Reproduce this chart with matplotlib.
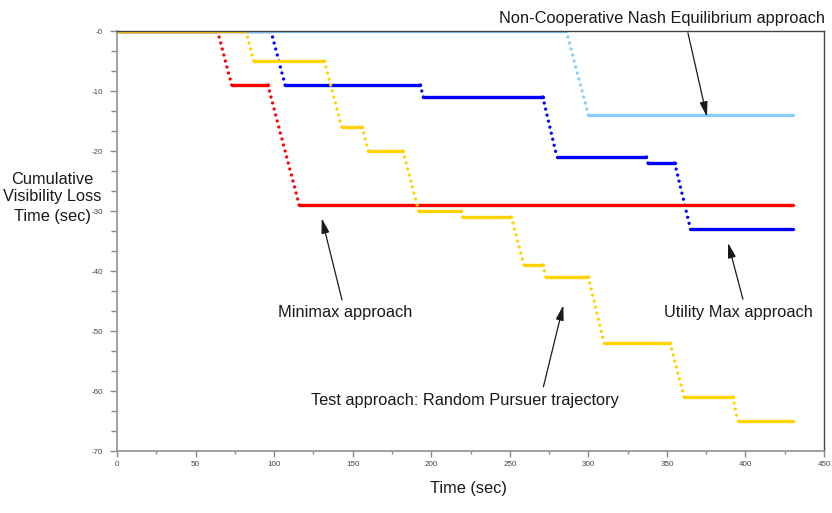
import matplotlib
matplotlib.use("Agg")
import matplotlib.pyplot as plt
from matplotlib.ticker import MultipleLocator, FuncFormatter

plt.rcParams["font.family"] = ["Liberation Sans", "DejaVu Sans"]

# cumulative visibility loss (sec) at the corners of each step curve
minimax_t = [0, 64, 73, 96, 116, 430]
minimax_v = [0, 0, -9, -9, -29, -29]

utility_t = [0, 98, 107, 193, 195, 271, 280, 337, 338, 355, 365, 430]
utility_v = [0, 0, -9, -9, -11, -11, -21, -21, -22, -22, -33, -33]

nash_t = [0, 286, 300, 430]
nash_v = [0, 0, -14, -14]

random_t = [0, 82, 87, 132, 143, 156, 160, 182, 192, 219, 220, 251, 259,
            271, 273, 300, 310, 352, 361, 392, 395, 430]
random_v = [0, 0, -5, -5, -16, -16, -20, -20, -30, -30, -31, -31, -39,
            -39, -41, -41, -52, -52, -61, -61, -65, -65]

ylabel_lines = ["Cumulative", "Visibility Loss", "Time (sec)"]

LW = 2.4


def draw_steps(ax, t, v, color, z):
    # flat parts solid, falling parts as a row of dots
    for t0, t1, v0, v1 in zip(t[:-1], t[1:], v[:-1], v[1:]):
        if v0 == v1:
            ax.plot([t0, t1], [v0, v1], color=color, lw=LW,
                    solid_capstyle="round", zorder=z)
        else:
            ax.plot([t0, t1], [v0, v1], color=color, lw=LW,
                    linestyle=(0, (0.01, 1.85)), dash_capstyle="round",
                    zorder=z)


fig = plt.figure(figsize=(8.32, 5.13), dpi=100)
ax = fig.add_axes([117 / 832, 62 / 513, 707 / 832, 420 / 513])

draw_steps(ax, utility_t, utility_v, "#0000ff", 2)
draw_steps(ax, nash_t, nash_v, "#87cefa", 3)
draw_steps(ax, minimax_t, minimax_v, "#ff0000", 4)
draw_steps(ax, random_t, random_v, "#ffd200", 5)

ax.set_xlim(0, 450)
ax.set_ylim(-70, 0)
ax.xaxis.set_major_locator(MultipleLocator(50))
ax.xaxis.set_minor_locator(MultipleLocator(25))
ax.yaxis.set_major_locator(MultipleLocator(10))
ax.yaxis.set_minor_locator(MultipleLocator(10 / 3))
ax.yaxis.set_major_formatter(FuncFormatter(lambda y, pos: "-%d" % round(abs(y))))
ax.xaxis.set_major_formatter(FuncFormatter(lambda x, pos: "%d" % round(x)))

ax.tick_params(axis="both", which="both", direction="out", colors="#8a8a8a",
               labelcolor="#444444", labelsize=5.8)
ax.tick_params(axis="y", which="major", length=5, width=1, pad=5)
ax.tick_params(axis="y", which="minor", length=4, width=1)
ax.tick_params(axis="x", which="major", length=4.5, width=1, pad=2.5)
ax.tick_params(axis="x", which="minor", length=2.5, width=1)

for side in ("left", "bottom"):
    ax.spines[side].set_color("#999999")
    ax.spines[side].set_linewidth(1.3)
for side in ("top", "right"):
    ax.spines[side].set_color("#444444")
    ax.spines[side].set_linewidth(1.0)
for sp in ax.spines.values():
    sp.set_zorder(10)

fs = 11.8
arrow = dict(arrowstyle="-|>,head_length=0.9,head_width=0.24", color="#1a1a1a",
             lw=0.9, shrinkA=0, shrinkB=0)

ax.text(347.2, 2.0, "Non-Cooperative Nash Equilibrium approach", fontsize=fs,
        ha="center", va="center", color="#1a1a1a", clip_on=False)
ax.annotate("", xy=(375.5, -14.3), xytext=(363.4, -0.3), arrowprops=arrow)

ax.text(145.4, -47.0, "Minimax approach", fontsize=fs, ha="center",
        va="center", color="#1a1a1a")
ax.annotate("", xy=(130.3, -31.2), xytext=(143.2, -44.8), arrowprops=arrow)

ax.text(395.6, -47.0, "Utility Max approach", fontsize=fs, ha="center",
        va="center", color="#1a1a1a")
ax.annotate("", xy=(388.9, -35.3), xytext=(398.4, -44.7), arrowprops=arrow)

ax.text(221.2, -61.5, "Test approach: Random Pursuer trajectory", fontsize=fs,
        ha="center", va="center", color="#1a1a1a")
ax.annotate("", xy=(284.1, -45.7), xytext=(271.4, -59.3), arrowprops=arrow)

# three-line horizontal y label, one text per line
for line, ypx in zip(ylabel_lines, [180, 197, 217]):
    fig.text(52 / 832, 1 - ypx / 513, line, fontsize=fs, ha="center",
             va="center", color="#1a1a1a")
fig.text(468 / 832, 1 - 489 / 513, "Time (sec)", fontsize=fs, ha="center",
         va="center", color="#1a1a1a")

fig.savefig("out.png", dpi=100)
